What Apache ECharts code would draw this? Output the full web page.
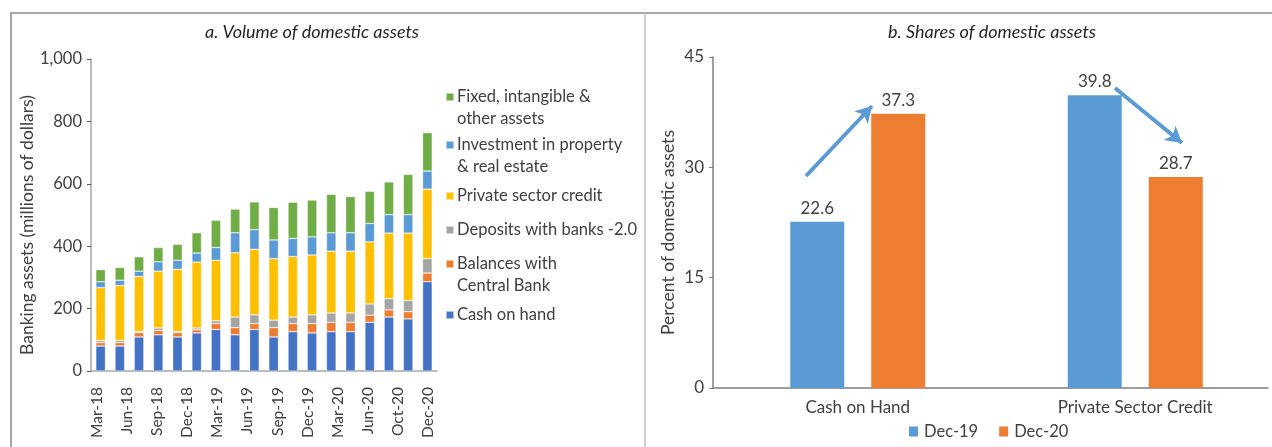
<!DOCTYPE html>
<html>
<head>
<meta charset="utf-8">
<title>Domestic assets</title>
<script src="https://cdn.jsdelivr.net/npm/echarts@6/dist/echarts.min.js"></script>
<style>
  html, body { margin: 0; padding: 0; background: #fff; }
  #chart { width: 1272px; height: 447px; }
</style>
</head>
<body>
<div id="chart"></div>
<script>
// panel a: one bar per period, only some periods get a label
var periods = ['Mar-18', 'Jun-18', 'Sep-18', 'Dec-18', 'Mar-19', 'Jun-19', 'Sep-19', 'Dec-19',
  'Jan-20', 'Feb-20', 'Mar-20', 'Apr-20', 'May-20', 'Jun-20', 'Jul-20', 'Aug-20', 'Oct-20', 'Dec-20']
var tickLabels = ['Mar-18', 'Jun-18', 'Sep-18', 'Dec-18', 'Mar-19', 'Jun-19', 'Sep-19', 'Dec-19',
  'Mar-20', 'Jun-20', 'Oct-20', 'Dec-20']

var cashOnHand = [80, 80, 109, 116, 109, 122, 133, 116, 133, 109, 126, 122, 126, 126, 156, 173, 167, 286]
var centralBank = [11, 11, 14, 14, 14, 10, 19, 23, 19, 30, 26, 30, 30, 30, 23, 23, 23, 28]
var bankDeposits = [7, 7, 4, 8, 4, 6, 9, 34, 28, 24, 21, 28, 30, 30, 36, 36, 36, 46]
var privateCredit = [169, 176, 176, 182, 199, 211, 194, 206, 210, 197, 194, 192, 198, 198, 199, 210, 216, 223]
var propertyInvest = [19, 17, 17, 30, 29, 29, 41, 64, 63, 60, 58, 58, 59, 59, 59, 59, 59, 58]
var fixedAssets = [39, 41, 46, 46, 51, 65, 87, 76, 89, 104, 116, 118, 123, 116, 103, 105, 129, 123]

// panel b
var shareCategories = ['Cash on Hand', 'Private Sector Credit']
var shareDec19 = [22.6, 39.8]
var shareDec20 = [37.3, 28.7]

var FONT = 'Lato'
var TXT = '#404040'
var GRIDLINE = '#a6a6a6'

var stackNames = {
  fixed: 'Fixed, intangible &\nother assets',
  invest: 'Investment in property\n& real estate',
  credit: 'Private sector credit',
  deposits: 'Deposits with banks -2.0',
  cb: 'Balances with\nCentral Bank',
  cash: 'Cash on hand'
}

// square at the top of a tall box, so it lines up with the first text line
var TOP_SQUARE = 'path://M0,0h8v8h-8z M0,29.9h0.1v0.1h-0.1z'

function legendItem(name, top, twoLines) {
  return {
    left: 445,
    top: top,
    orient: 'vertical',
    data: [name],
    icon: twoLines ? TOP_SQUARE : 'rect',
    itemWidth: 8,
    itemHeight: twoLines ? 30 : 8,
    itemGap: 0,
    selectedMode: false,
    padding: 0,
    textStyle: { fontFamily: FONT, fontSize: 16.5, color: TXT, lineHeight: 22, padding: [0, 0, 0, -2] }
  }
}

function stackSeries(name, values, color) {
  return {
    name: name,
    type: 'bar',
    stack: 'assets',
    xAxisIndex: 0,
    yAxisIndex: 0,
    barWidth: '50%',
    data: values,
    itemStyle: { color: color, borderColor: 'rgba(255,255,255,0.55)', borderWidth: 0.6 }
  }
}

function shareSeries(name, values, color) {
  return {
    name: name,
    type: 'bar',
    xAxisIndex: 3,
    yAxisIndex: 3,
    barWidth: 54,
    barGap: '50%',
    data: values,
    itemStyle: { color: color },
    label: {
      show: true,
      position: 'top',
      distance: 5,
      fontFamily: FONT,
      fontSize: 17,
      color: TXT
    }
  }
}

function getOptions() {
  var arrowStyle = { color: '#5B9BD5', width: 4, type: 'solid' }
  var titleStyle = { fontFamily: FONT, fontSize: 18, fontStyle: 'italic', fontWeight: 'normal', color: '#262626' }
  return {
    animation: false,
    textStyle: { fontFamily: FONT },
    title: [
      { text: 'a. Volume of domestic assets', left: 307, top: 18, textAlign: 'center', textStyle: titleStyle },
      { text: 'b. Shares of domestic assets', left: 987, top: 18, textAlign: 'center', textStyle: titleStyle }
    ],
    legend: [
      legendItem(stackNames.fixed, 86, true),
      legendItem(stackNames.invest, 134, true),
      legendItem(stackNames.credit, 185, false),
      legendItem(stackNames.deposits, 219, false),
      legendItem(stackNames.cb, 253, true),
      legendItem(stackNames.cash, 304, false),
      {
        left: 909, top: 423,
        data: ['Dec-19', 'Dec-20'],
        icon: 'rect', itemWidth: 9, itemHeight: 10, itemGap: 21,
        selectedMode: false, padding: 0,
        textStyle: { fontFamily: FONT, fontSize: 16.5, color: TXT, padding: [0, 0, 0, 1] }
      }
    ],
    grid: [
      { left: 91, top: 59, width: 346, height: 312, outerBoundsMode: 'none' },
      { left: 97, top: 59, width: 331, height: 312, outerBoundsMode: 'none' },
      // panel b: axes, and a copy nudged right for the bars and category names
      { left: 713, top: 57, width: 555, height: 331, outerBoundsMode: 'none' },
      { left: 719, top: 57, width: 555, height: 331, outerBoundsMode: 'none' }
    ],
    xAxis: [
      {
        type: 'category', gridIndex: 0, data: periods,
        axisLine: { lineStyle: { color: GRIDLINE, width: 1.5 } },
        axisTick: { length: 5, lineStyle: { color: '#595959' } },
        axisLabel: { show: false }
      },
      {
        type: 'category', gridIndex: 1, data: tickLabels, boundaryGap: false,
        axisLine: { show: false },
        axisTick: { show: false },
        axisLabel: { rotate: 90, margin: 16, interval: 0, fontFamily: FONT, fontSize: 15.5, color: TXT }
      },
      {
        type: 'category', gridIndex: 2, data: shareCategories,
        axisLine: { lineStyle: { color: '#7f7f7f', width: 1.5 } },
        axisTick: { length: 5, lineStyle: { color: '#7f7f7f' } },
        axisLabel: { show: false }
      },
      {
        type: 'category', gridIndex: 3, data: shareCategories,
        axisLine: { show: false },
        axisTick: { show: false },
        axisLabel: { margin: 11, fontFamily: FONT, fontSize: 17, color: TXT }
      }
    ],
    yAxis: [
      {
        type: 'value', gridIndex: 0, min: 0, max: 1000, interval: 200,
        name: 'Banking assets (millions of dollars)',
        nameLocation: 'middle', nameGap: 52,
        nameTextStyle: { fontFamily: FONT, fontSize: 17.5, color: TXT, padding: [0, 20, 0, 0] },
        axisLine: { show: true, lineStyle: { color: GRIDLINE, width: 1.5 } },
        axisTick: { show: true, length: 4, lineStyle: { color: '#595959' } },
        splitLine: { show: false },
        axisLabel: {
          margin: 9, fontFamily: FONT, fontSize: 16.5, color: TXT,
          formatter: function(v) { return v.toLocaleString('en-US') }
        }
      },
      { type: 'value', gridIndex: 1, show: false },
      {
        type: 'value', gridIndex: 2, min: 0, max: 45, interval: 15,
        name: 'Percent of domestic assets',
        nameLocation: 'middle', nameGap: 36,
        nameTextStyle: { fontFamily: FONT, fontSize: 17.5, color: TXT, padding: [0, 20, 0, 0] },
        axisLine: { show: true, lineStyle: { color: '#7f7f7f', width: 1.5 } },
        axisTick: { show: true, length: 4, lineStyle: { color: '#7f7f7f' } },
        splitLine: { show: false },
        axisLabel: { margin: 9, fontFamily: FONT, fontSize: 17, color: TXT }
      },
      { type: 'value', gridIndex: 3, min: 0, max: 45, interval: 15, show: false }
    ],
    series: [
      stackSeries(stackNames.cash, cashOnHand, '#4472C4'),
      stackSeries(stackNames.cb, centralBank, '#ED7D31'),
      stackSeries(stackNames.deposits, bankDeposits, '#A5A5A5'),
      stackSeries(stackNames.credit, privateCredit, '#FFC000'),
      stackSeries(stackNames.invest, propertyInvest, '#5B9BD5'),
      stackSeries(stackNames.fixed, fixedAssets, '#70AD47'),
      shareSeries('Dec-19', shareDec19, '#5B9BD5'),
      Object.assign(shareSeries('Dec-20', shareDec20, '#ED7D31'), {
        // direction-of-change arrows
        markLine: {
          silent: true,
          symbol: ['none', 'arrow'],
          symbolSize: [14, 16],
          label: { show: false },
          lineStyle: arrowStyle,
          data: [
            [{ x: 806, y: 176 }, { x: 872, y: 106 }],
            [{ x: 1115, y: 88 }, { x: 1182, y: 143 }]
          ]
        }
      })
    ],
    graphic: [
      // panel frame
      { type: 'line', shape: { x1: 10, y1: 13, x2: 1272, y2: 13 }, style: { stroke: GRIDLINE, lineWidth: 2 } },
      { type: 'line', shape: { x1: 11, y1: 13, x2: 11, y2: 447 }, style: { stroke: GRIDLINE, lineWidth: 2 } },
      { type: 'line', shape: { x1: 645, y1: 13, x2: 645, y2: 447 }, style: { stroke: '#bfbfbf', lineWidth: 1.5 } }
    ]
  }
}

var chart = echarts.init(document.getElementById('chart'), null, { renderer: 'canvas' })
chart.setOption(getOptions())
</script>
</body>
</html>
